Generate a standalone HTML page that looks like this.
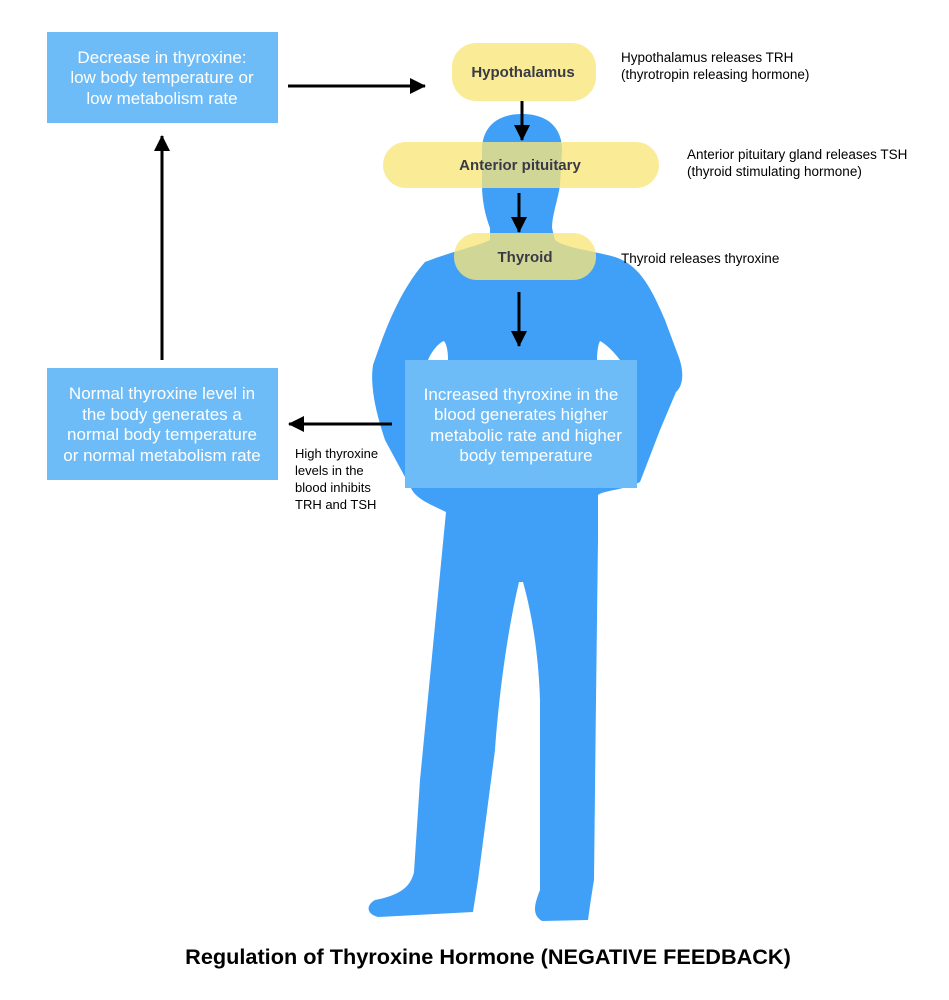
<!DOCTYPE html>
<html><head><meta charset="utf-8"><style>
html,body{margin:0;padding:0;background:#fff;}
svg{display:block;}
text{font-family:"Liberation Sans",Arial,sans-serif;}
</style></head><body>
<svg width="949" height="1000" viewBox="0 0 949 1000" xmlns="http://www.w3.org/2000/svg">
<defs>
<marker id="ah2" markerWidth="16" markerHeight="16" refX="15" refY="8" orient="auto" markerUnits="userSpaceOnUse">
<path d="M0,0 L16,8 L0,16 Z" fill="#000"/>
</marker>
</defs>
<!-- silhouette -->
<path fill="#40a0f8" d="M522,114 C548,114 562,128 562,150 L560,185 C558,200 552,215 552,228 L555,240 C565,248 590,250 615,257 C640,265 652,290 665,320 L678,355 C684,370 684,385 676,392 L660,430 L640,482 C625,490 605,490 598,495 L598,540 L596,700 L594,880 C592,892 590,905 588,920 L542,921 C532,915 534,905 540,890 L540,700 C538,640 528,600 523,582 L519,582 C510,620 500,680 495,750 L478,880 L473,912 L378,917 C366,914 366,905 375,900 C395,896 410,890 414,872 L420,780 L446,512 C432,505 418,500 412,490 L385,440 C375,410 370,385 373,365 C385,330 400,290 425,262 C450,252 478,246 490,240 L490,228 C485,215 482,200 482,185 L482,150 C482,128 496,114 522,114 Z"/>
<path fill="#fff" d="M428,360 C432,350 440,342 444,341 C447,345 448,352 448,360 Z"/>
<path fill="#fff" d="M597,360 C597,352 598,345 600,341 C606,344 614,352 620,360 Z"/>

<!-- boxes -->
<rect x="47" y="32" width="231" height="91" fill="#6ebcf7"/>
<text fill="#fff" font-size="17" text-anchor="middle"><tspan x="162" y="63">Decrease in thyroxine:</tspan><tspan x="162" y="83">low body temperature or</tspan><tspan x="162" y="104">low metabolism rate</tspan></text>

<rect x="47" y="368" width="231" height="112" fill="#6ebcf7"/>
<text fill="#fff" font-size="17" text-anchor="middle"><tspan x="162" y="399">Normal thyroxine level in</tspan><tspan x="162" y="420">the body generates a</tspan><tspan x="162" y="440">normal body temperature</tspan><tspan x="162" y="461">or normal metabolism rate</tspan></text>

<rect x="405" y="360" width="232" height="128" fill="#6ebcf7"/>
<text fill="#fff" font-size="17" text-anchor="middle"><tspan x="521" y="400">Increased thyroxine in the</tspan><tspan x="521" y="420">blood generates higher</tspan><tspan x="526" y="441">metabolic rate and higher</tspan><tspan x="526" y="461">body temperature</tspan></text>

<!-- yellow pills -->
<rect x="452" y="43" width="144" height="58" rx="24" fill="rgba(249,230,120,0.78)"/>
<rect x="383" y="142" width="276" height="46" rx="23" fill="rgba(249,230,120,0.78)"/>
<rect x="454" y="233" width="142" height="47" rx="23" fill="rgba(249,230,120,0.78)"/>
<text fill="#3a3a46" font-size="15" font-weight="bold" text-anchor="middle"><tspan x="523" y="77">Hypothalamus</tspan><tspan x="520" y="170">Anterior pituitary</tspan><tspan x="525" y="262">Thyroid</tspan></text>

<!-- side notes -->
<text fill="#000" font-size="13.5"><tspan x="621" y="62">Hypothalamus releases TRH</tspan><tspan x="621" y="79">(thyrotropin releasing hormone)</tspan></text>
<text fill="#000" font-size="13.5"><tspan x="687" y="159">Anterior pituitary gland releases TSH</tspan><tspan x="687" y="176">(thyroid stimulating hormone)</tspan></text>
<text fill="#000" font-size="13.5" x="621" y="263">Thyroid releases thyroxine</text>
<text fill="#000" font-size="13"><tspan x="295" y="458">High thyroxine</tspan><tspan x="295" y="475">levels in the</tspan><tspan x="295" y="492">blood inhibits</tspan><tspan x="295" y="509">TRH and TSH</tspan></text>

<!-- arrows -->
<g stroke="#000" stroke-width="3" fill="none">
<line x1="288" y1="86" x2="425" y2="86" marker-end="url(#ah2)"/>
<line x1="522" y1="101" x2="522" y2="140" marker-end="url(#ah2)"/>
<line x1="519" y1="193" x2="519" y2="232" marker-end="url(#ah2)"/>
<line x1="519" y1="292" x2="519" y2="346" marker-end="url(#ah2)"/>
<line x1="162" y1="360" x2="162" y2="136" marker-end="url(#ah2)"/>
<line x1="392" y1="424" x2="289" y2="424" marker-end="url(#ah2)"/>
</g>

<text x="488" y="964" font-size="21.7" font-weight="bold" text-anchor="middle" fill="#000">Regulation of Thyroxine Hormone (NEGATIVE FEEDBACK)</text>
</svg>
</body></html>
